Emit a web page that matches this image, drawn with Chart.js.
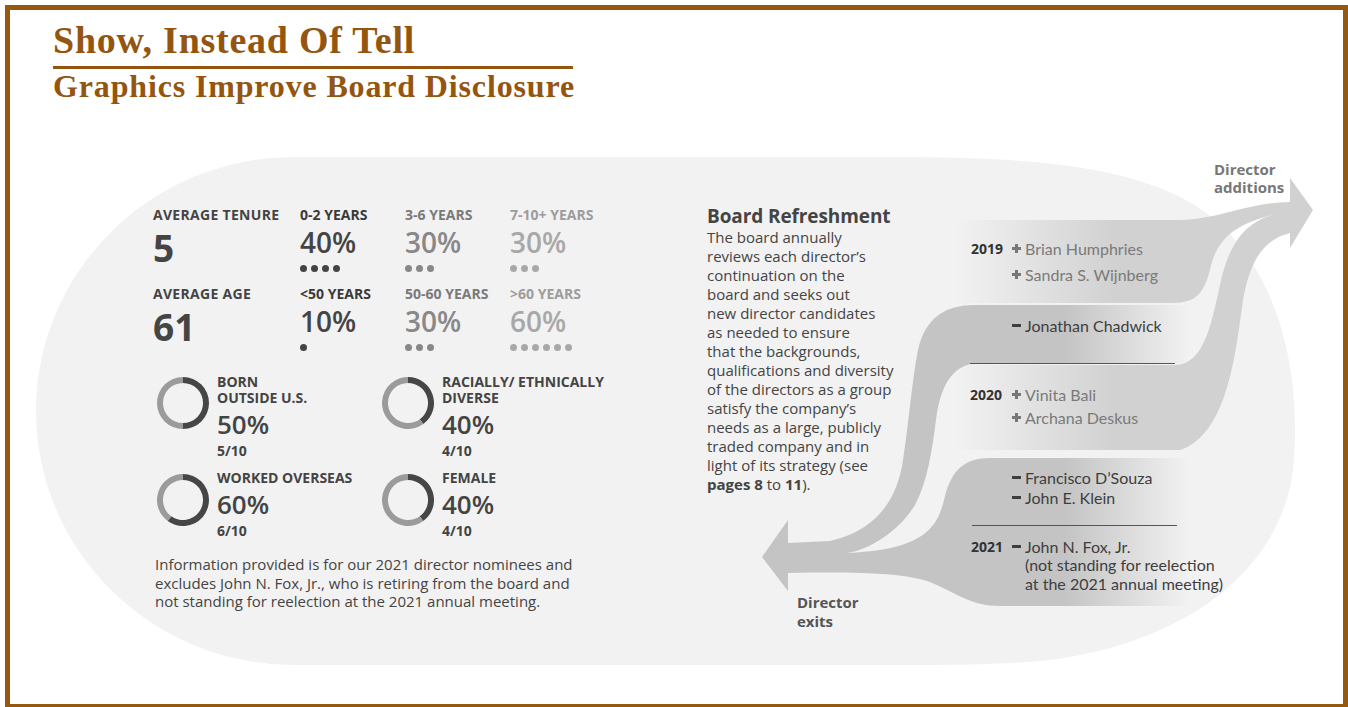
<!DOCTYPE html>
<html lang="en">
<head>
<meta charset="UTF-8">
<title>Show, Instead Of Tell</title>
<script src="https://cdn.jsdelivr.net/npm/chart.js"></script>
<style>
    body { margin: 0; background: #fff; }
    #page {
        position: relative;
        width: 1348px;
        height: 707px;
        overflow: hidden;
        font-family: "Open Sans", sans-serif;
        color: #444;
    }
    .frame {
        position: absolute;
        left: 5px; top: 5px;
        width: 1343px; height: 702px;
        box-sizing: border-box;
        border: 5px solid #96570f;
        border-bottom-width: 3px;
    }
    .t { position: absolute; white-space: nowrap; line-height: 1; }
    .serif { font-family: "Liberation Serif", "Times New Roman", serif; font-weight: 700; color: #93550f; }
    .rule { position: absolute; left: 53px; top: 66px; width: 520px; height: 3px; background: #93550f; }
    svg { position: absolute; left: 0; top: 0; }
    canvas.donut { position: absolute; }
    .dots { position: absolute; font-size: 0; line-height: 7px; height: 7px; }
    .dot { display: inline-block; vertical-align: top; width: 7px; height: 7px; border-radius: 50%; margin-right: 4px; }
    .para { position: absolute; left: 707px; top: 225px; font-size: 15px; line-height: 19px; color: #444; white-space: nowrap; }
    .foot { position: absolute; left: 155px; top: 555px; font-size: 15px; line-height: 18.5px; color: #444; white-space: nowrap; }
    .name { position: absolute; font-family: Lato, sans-serif; font-size: 16px; line-height: 1; white-space: nowrap; }
    .add { color: #7a7a7a; }
    .ex { color: #3e3e3e; }
    .yr { position: absolute; font-size: 14px; font-weight: 700; line-height: 1; color: #333; }
    .plus, .minus { position: absolute; }
    .plus::before, .plus::after, .minus::before { content: ""; position: absolute; background: #777; }
    .plus::before { left: 0; top: 3px; width: 9px; height: 3px; }
    .plus::after { left: 3px; top: 0; width: 3px; height: 9px; }
    .minus::before { left: 0; top: 3px; width: 9px; height: 3px; background: #3e3e3e; }
    .divider { position: absolute; height: 1px; background: #555; }
</style>
</head>
<body>
<div id="page">
    <div class="frame"></div>
    <div class="t serif" style="left:53px; top:21px; font-size:38px; letter-spacing:0.75px;">Show, Instead Of Tell</div>
    <div class="rule"></div>
    <div class="t serif" style="left:53px; top:70px; font-size:32px; letter-spacing:0.85px;">Graphics Improve Board Disclosure</div>

    <svg width="1348" height="707">
        <defs>
            <linearGradient id="gAdd" gradientUnits="userSpaceOnUse" x1="955" y1="0" x2="1115" y2="0">
                <stop offset="0" stop-color="#d1d1d1" stop-opacity="0"/>
                <stop offset="1" stop-color="#d1d1d1" stop-opacity="1"/>
            </linearGradient>
            <linearGradient id="gExit" gradientUnits="userSpaceOnUse" x1="1065" y1="0" x2="1190" y2="0">
                <stop offset="0" stop-color="#c4c4c4" stop-opacity="1"/>
                <stop offset="1" stop-color="#c4c4c4" stop-opacity="0"/>
            </linearGradient>
        </defs>
        <!-- background blob -->
        <path fill="#f2f2f2" d="M 294 157 L 900 157 C 1100 157, 1200 180, 1250 260 C 1290 320, 1300 400, 1293 470 C 1282 560, 1200 640, 1050 660 C 1000 665, 950 665, 900 665 L 294 665 A 258 254 0 0 1 294 157 Z"/>
        <!-- director exits -->
        <path fill="url(#gExit)" d="M 1190 305 L 975 305
            C 945 305, 925 318, 918 350
            C 912 380, 908 430, 903 460
            C 898 495, 880 530, 830 541
            L 788 543 L 788 520 L 762 557 L 788 591 L 788 573
            C 850 572, 900 572, 930 582
            C 955 592, 970 606, 1000 606
            L 1195 606 L 1195 458 L 990 458
            C 960 458, 950 475, 944 500
            C 937 530, 920 550, 847 553
            C 870 550, 900 530, 915 505
            C 928 480, 932 450, 936 420
            C 940 390, 950 363, 980 363
            L 1190 363 Z"/>
        <!-- director additions -->
        <path fill="url(#gAdd)" d="M 950 220 L 1180 220
            C 1220 219, 1245 203, 1290 202
            L 1290 178 L 1313 210 L 1290 248 L 1290 233
            C 1262 240, 1250 262, 1243 300
            C 1236 350, 1228 435, 1180 450
            L 950 450 L 950 365 L 1175 365
            C 1205 365, 1212 320, 1220 285
            C 1228 245, 1245 222, 1273 215
            C 1242 222, 1220 235, 1212 262
            C 1205 290, 1200 303, 1172 303
            L 950 303 Z"/>
    </svg>

    <div class="para">
        <div style="font-size:19px; font-weight:700; line-height:1; margin-top:-18px; margin-bottom:2px; letter-spacing:-0.1px;">Board Refreshment</div>
        The board annually<br>
        reviews each director’s<br>
        continuation on the<br>
        board and seeks out<br>
        new director candidates<br>
        as needed to ensure<br>
        that the backgrounds,<br>
        qualifications and diversity<br>
        of the directors as a group<br>
        satisfy the company’s<br>
        needs as a large, publicly<br>
        traded company and in<br>
        light of its strategy (see<br>
        <b>pages 8</b> to <b>11</b>).
    </div>

    <div class="foot">
        Information provided is for our 2021 director nominees and<br>
        excludes John N. Fox, Jr., who is retiring from the board and<br>
        not standing for reelection at the 2021 annual meeting.
    </div>

    <div class="t" style="left:1214px; top:161px; font-size:15px; font-weight:700; color:#777; line-height:17.5px;">Director<br>additions</div>
    <div class="t" style="left:797px; top:593px; font-size:15px; font-weight:700; color:#555; line-height:19px;">Director<br>exits</div>

    <div class="yr" style="left:971px; top:242px;">2019</div>
    <div class="plus" style="left:1012px; top:244px;"></div>
    <div class="name add" style="left:1025px; top:241px;">Brian Humphries</div>
    <div class="plus" style="left:1012px; top:270px;"></div>
    <div class="name add" style="left:1025px; top:267px;">Sandra S. Wijnberg</div>
    <div class="minus" style="left:1012px; top:321px;"></div>
    <div class="name ex" style="left:1025px; top:318px;">Jonathan Chadwick</div>
    <div class="divider" style="left:970px; top:363px; width:205px;"></div>

    <div class="yr" style="left:970px; top:388px;">2020</div>
    <div class="plus" style="left:1012px; top:390px;"></div>
    <div class="name add" style="left:1025px; top:387px;">Vinita Bali</div>
    <div class="plus" style="left:1012px; top:413px;"></div>
    <div class="name add" style="left:1025px; top:410px;">Archana Deskus</div>
    <div class="minus" style="left:1012px; top:473px;"></div>
    <div class="name ex" style="left:1025px; top:470px;">Francisco D’Souza</div>
    <div class="minus" style="left:1012px; top:493px;"></div>
    <div class="name ex" style="left:1025px; top:490px;">John E. Klein</div>
    <div class="divider" style="left:972px; top:525px; width:205px;"></div>

    <div class="yr" style="left:971px; top:540px;">2021</div>
    <div class="minus" style="left:1012px; top:542px;"></div>
    <div class="name ex" style="left:1025px; top:539px;">John N. Fox, Jr.</div>
    <div class="name ex" style="left:1025px; top:557px;">(not standing for reelection</div>
    <div class="name ex" style="left:1025px; top:576px;">at the 2021 annual meeting)</div>
</div>

<script>
    // board profile data
    const averageTenure = 5;
    const averageAge = 61;
    const tenureLabels = ["0-2 YEARS", "3-6 YEARS", "7-10+ YEARS"];
    const tenureShares = [40, 30, 30];
    const ageLabels = ["<50 YEARS", "50-60 YEARS", ">60 YEARS"];
    const ageShares = [10, 30, 60];
    const boardSeats = 10;
    const profileLabels = [["BORN", "OUTSIDE U.S."], ["RACIALLY/ ETHNICALLY", "DIVERSE"], ["WORKED OVERSEAS"], ["FEMALE"]];
    const profileCounts = [5, 4, 6, 4];

    const page = document.getElementById("page");

    function addText(x, top, text, size, weight, color) {
        const el = document.createElement("div");
        el.className = "t";
        el.style.left = x + "px";
        el.style.top = top + "px";
        el.style.fontSize = size + "px";
        el.style.fontWeight = weight;
        el.style.color = color;
        el.textContent = text;
        page.appendChild(el);
        return el;
    }

    const colX = [300, 405, 510];
    const labelColors = ["#3a3a3a", "#7a7a7a", "#9c9c9c"];
    const valueColors = ["#444", "#888", "#a8a8a8"];

    function statRow(title, avg, labels, shares, y) {
        addText(153, y - 7, title, 14, 700, "#444").style.letterSpacing = "0.3px";
        addText(153, y + 14, String(avg), 37, 700, "#444");
        labels.forEach((lab, i) => {
            addText(colX[i], y - 7, lab, 14, 700, labelColors[i]);
            addText(colX[i], y + 13, shares[i] + "%", 28, 600, valueColors[i]);
            const dots = document.createElement("div");
            dots.className = "dots";
            dots.style.left = colX[i] + "px";
            dots.style.top = (y + 50) + "px";
            for (let k = 0; k < shares[i] / 10; k++) {
                const d = document.createElement("span");
                d.className = "dot";
                d.style.background = valueColors[i];
                dots.appendChild(d);
            }
            page.appendChild(dots);
        });
    }

    statRow("AVERAGE TENURE", averageTenure, tenureLabels, tenureShares, 215);
    statRow("AVERAGE AGE", averageAge, ageLabels, ageShares, 294);

    // profile donuts
    const donutPos = [[157, 377], [382, 377], [157, 474], [382, 474]];
    const labelTop = [382, 382, 478, 478];
    profileCounts.forEach((count, i) => {
        const [x, y] = donutPos[i];
        const cv = document.createElement("canvas");
        cv.className = "donut";
        cv.width = 52;
        cv.height = 52;
        cv.style.left = x + "px";
        cv.style.top = y + "px";
        page.appendChild(cv);
        new Chart(cv.getContext("2d"), {
            type: "doughnut",
            data: {
                labels: ["Yes", "No"],
                datasets: [{
                    data: [count, boardSeats - count],
                    backgroundColor: ["#464646", "#9b9b9b"],
                    borderWidth: 0
                }]
            },
            options: {
                responsive: false,
                animation: false,
                cutout: "77%",
                events: [],
                plugins: { legend: { display: false }, tooltip: { enabled: false } }
            }
        });

        const tx = x + 60;
        const ly = labelTop[i];
        // multi-line label kept as one block
        const lab = addText(tx, ly - 8, profileLabels[i].join("\n"), 14, 700, "#444");
        lab.style.whiteSpace = "pre";
        lab.style.lineHeight = "16px";
        const lastLine = ly + (profileLabels[i].length - 1) * 16;
        addText(tx, lastLine + 12.5, Math.round(count / boardSeats * 100) + "%", 26, 600, "#444");
        addText(tx, lastLine + 46, count + "/" + boardSeats, 14, 700, "#444");
    });
</script>
</body>
</html>
